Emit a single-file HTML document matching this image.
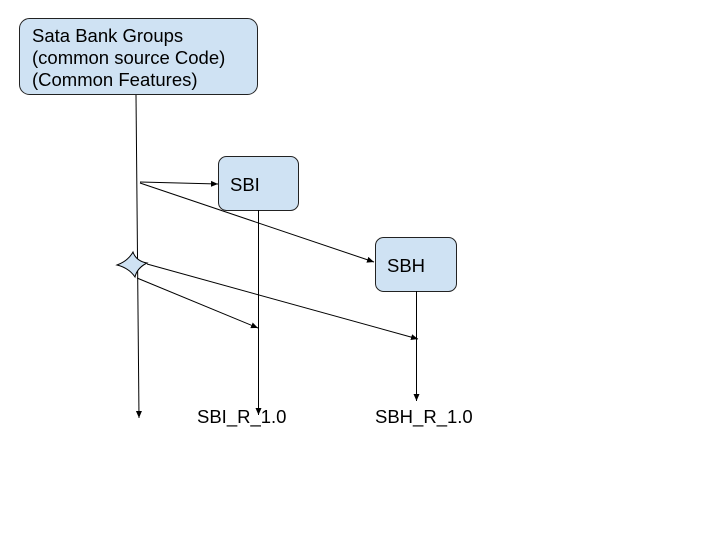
<!DOCTYPE html>
<html><head><meta charset="utf-8"><style>
html,body{margin:0;padding:0;background:#fff;}
svg{display:block;}
text{font-family:"Liberation Sans",Arial,sans-serif;fill:#000;}
</style></head><body>
<svg width="720" height="540" viewBox="0 0 720 540" xmlns="http://www.w3.org/2000/svg">
<defs>
<marker id="a" markerWidth="8" markerHeight="8" refX="7" refY="4" orient="auto" markerUnits="userSpaceOnUse">
<path d="M0,1 L7,4 L0,7 Z" fill="#000"/>
</marker>
</defs>
<rect x="19.5" y="18.5" width="238" height="76" rx="10" fill="#cfe2f3" stroke="#222" stroke-width="1"/>
<text x="32" y="42" font-size="18.5">Sata Bank Groups</text>
<text x="32" y="64" font-size="18.5">(common source Code)</text>
<text x="32" y="86" font-size="18.5">(Common Features)</text>
<rect x="218.5" y="156.5" width="80" height="54" rx="8" fill="#cfe2f3" stroke="#222"/>
<text x="230" y="191" font-size="18.5">SBI</text>
<rect x="375.5" y="237.5" width="81" height="54" rx="8" fill="#cfe2f3" stroke="#222"/>
<text x="387" y="272" font-size="18.5">SBH</text>
<line x1="136" y1="95" x2="139" y2="418" stroke="#000" marker-end="url(#a)"/>
<line x1="140" y1="182" x2="218" y2="184" stroke="#000" marker-end="url(#a)"/>
<line x1="140" y1="183" x2="374" y2="262" stroke="#000" marker-end="url(#a)"/>
<line x1="147" y1="264" x2="418" y2="339" stroke="#000" marker-end="url(#a)"/>
<line x1="137" y1="278" x2="258" y2="328" stroke="#000" marker-end="url(#a)"/>
<line x1="258.5" y1="210" x2="258.5" y2="415" stroke="#000" marker-end="url(#a)"/>
<line x1="416.5" y1="291" x2="416.5" y2="401" stroke="#000" marker-end="url(#a)"/>
<path d="M117,265 Q128,261 133,252 Q136,261 147,263 Q137,268 135,277 Q129,268 117,265 Z" fill="#cfe2f3" stroke="#000"/>
<text x="197" y="423" font-size="18.5">SBI_R_1.0</text>
<text x="375" y="423" font-size="18.5">SBH_R_1.0</text>
</svg>
</body></html>
